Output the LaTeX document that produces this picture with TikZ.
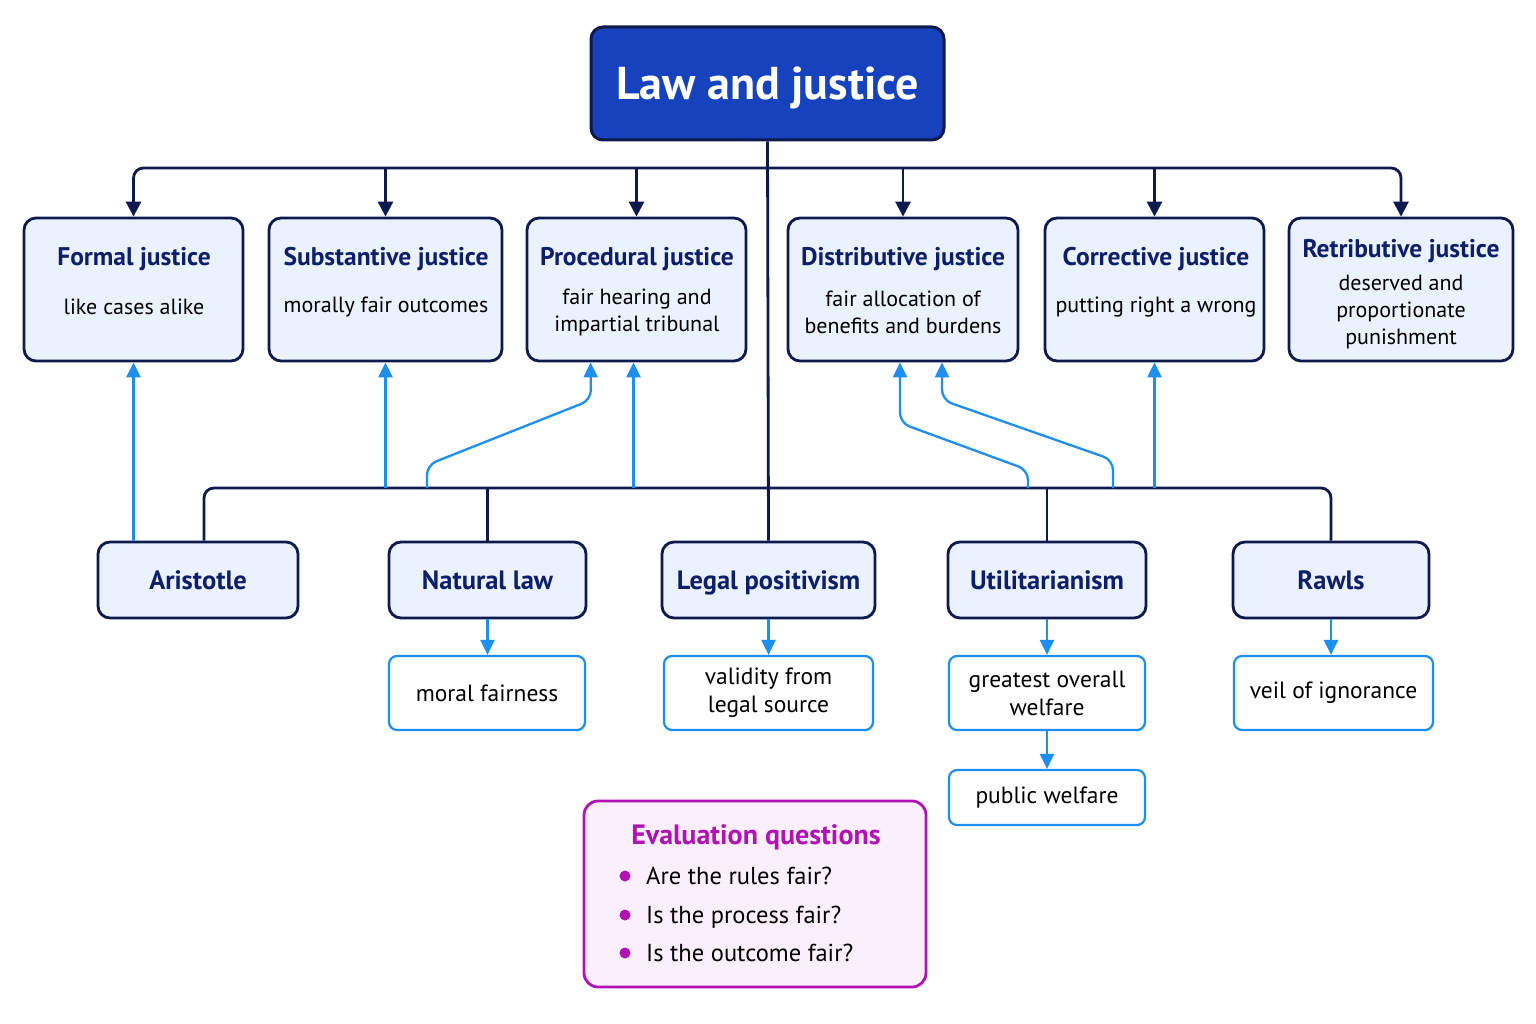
\documentclass[tikz,border=0pt]{standalone}
\usepackage{fontspec}
\setmainfont{PT Sans}
\usetikzlibrary{arrows.meta,fit}
\definecolor{navy}{HTML}{0E1A4E}
\definecolor{titleblue}{HTML}{1742BD}
\definecolor{jfill}{HTML}{EAF2FD}
\definecolor{jtext}{HTML}{0F1E6B}
\definecolor{lblue}{HTML}{1C8FF0}
\definecolor{purp}{HTML}{B012B5}
\definecolor{pfill}{HTML}{FCEFFC}
\begin{document}
\begin{tikzpicture}[x=1pt,y=-1pt,
  jbox/.style={draw=navy, line width=2.8pt, fill=jfill, rounded corners=12pt, inner sep=0pt},
  subbox/.style={draw=lblue, line width=2.2pt, fill=white, rounded corners=8pt, inner sep=0pt},
  jtitle/.style={font=\fontsize{25.5}{29}\selectfont\bfseries, text=jtext, inner sep=0pt, text height=21.5pt, text depth=3.8pt},
  ttitle/.style={font=\fontsize{26.5}{30}\selectfont\bfseries, text=jtext, inner sep=0pt, text height=22.5pt, text depth=4pt},
  jdesc/.style={font=\fontsize{22}{27}\selectfont, text=black, align=center},
  sdesc/.style={font=\fontsize{23.5}{28}\selectfont, text=black, align=center},
  navyline/.style={draw=navy, line width=2.8pt, rounded corners=10pt},
  navyarrow/.style={navyline, -{Triangle[length=15pt,width=15pt]}},
  bluearrow/.style={draw=lblue, line width=2.3pt, rounded corners=10pt, -{Triangle[length=15pt,width=14pt]}},
  bulletdot/.style={circle, fill=purp, inner sep=0pt, minimum size=11pt},
  qtext/.style={font=\fontsize{24.5}{28}\selectfont, text=black, anchor=west, inner sep=0pt, text height=20.8pt, text depth=3.7pt},
]
\useasboundingbox[fill=white] (0,0) rectangle (1536,1024);

% root
\node[fit={(591,27) (944,140)}, draw=navy, line width=3pt, fill=titleblue, rounded corners=12pt, inner sep=0pt] (root) {};
\node[font=\fontsize{46}{54}\selectfont\bfseries, text=white, inner sep=0pt, text height=39pt, text depth=7pt] (rootlabel) at (root.center) {Law and justice};

% justice boxes
\node[jbox, fit={(24,218) (243,361)}] (formal) {};
\node[jtitle] (formalt) at (134,257) {Formal justice};
\node[jdesc] (formald) at (134,307) {like cases alike};

\node[jbox, fit={(269,218) (502,361)}] (subst) {};
\node[jtitle] (substt) at (386,257) {Substantive justice};
\node[jdesc] (substd) at (386,307) {morally fair outcomes};

\node[jbox, fit={(527,218) (746,361)}] (proc) {};
\node[jtitle] (proct) at (637,257) {Procedural justice};
\node[jdesc] (procd) at (637,312) {fair hearing and\\impartial tribunal};

\node[jbox, fit={(788,218) (1018,361)}] (distr) {};
\node[jtitle] (distrt) at (903,257) {Distributive justice};
\node[jdesc] (distrd) at (903,312) {fair allocation of\\benefits and burdens};

\node[jbox, fit={(1045,218) (1264,361)}] (corr) {};
\node[jtitle] (corrt) at (1156,257) {Corrective justice};
\node[jdesc] (corrd) at (1156,307) {putting right a wrong};

\node[jbox, fit={(1289,218) (1513,361)}] (retri) {};
\node[jtitle] (retrit) at (1401,249) {Retributive justice};
\node[jdesc] (retrid) at (1401,312) {deserved and\\proportionate\\punishment};

% theory boxes
\node[jbox, fit={(98,542) (298,618)}] (aris) {};
\node[ttitle] (arist) at (aris.center) {Aristotle};
\node[jbox, fit={(389,542) (586,618)}] (natural) {};
\node[ttitle] (naturalt) at (natural.center) {Natural law};
\node[jbox, fit={(662,542) (875,618)}] (legal) {};
\node[ttitle] (legalt) at (legal.center) {Legal positivism};
\node[jbox, fit={(948,542) (1146,618)}] (util) {};
\node[ttitle] (utilt) at (util.center) {Utilitarianism};
\node[jbox, fit={(1233,542) (1429,618)}] (rawls) {};
\node[ttitle] (rawlst) at (rawls.center) {Rawls};

% sub boxes
\node[subbox, fit={(389,656) (585,730)}] (moral) {};
\node[sdesc] (moralt) at (moral.center) {moral fairness};
\node[subbox, fit={(664,656) (873,730)}] (valid) {};
\node[sdesc] (validt) at (valid.center) {validity from\\legal source};
\node[subbox, fit={(949,656) (1145,730)}] (great) {};
\node[sdesc] (greatt) at (great.center) {greatest overall\\welfare};
\node[subbox, fit={(1234,656) (1433,730)}] (veil) {};
\node[sdesc] (veilt) at (veil.center) {veil of ignorance};
\node[subbox, fit={(949,770) (1145,825)}] (public) {};
\node[sdesc] (publict) at (public.center) {public welfare};

% evaluation box
\node[fit={(584,801) (926,987)}, draw=purp, line width=2.8pt, fill=pfill, rounded corners=14pt, inner sep=0pt] (eval) {};
\node[font=\fontsize{28}{32}\selectfont\bfseries, text=purp, inner sep=0pt, text height=24pt, text depth=4.2pt] (evalt) at (756,835) {Evaluation questions};
\node[bulletdot] (b1) at (625,876) {};
\node[qtext] (q1) at (646,876) {Are the rules fair?};
\node[bulletdot] (b2) at (625,915) {};
\node[qtext] (q2) at (646,915) {Is the process fair?};
\node[bulletdot] (b3) at (625,953) {};
\node[qtext] (q3) at (646,953) {Is the outcome fair?};

% top bus
\coordinate (tb) at (root.south |- 0,168);
\coordinate (lb) at (root.south |- 0,488);
\draw[navyline] (root.south) -- (legal.north);
\draw[navyarrow] (tb) -| (formal.north);
\draw[navyarrow] (tb) -| (retri.north);
\draw[navyarrow] (subst.north |- tb) -- (subst.north);
\draw[navyarrow] (proc.north |- tb) -- (proc.north);
\draw[navyarrow] (distr.north |- tb) -- (distr.north);
\draw[navyarrow] (corr.north |- tb) -- (corr.north);

% lower bus
\draw[navyline] ([xshift=6pt]aris.north) |- (lb) -| (rawls.north);
\draw[navyline] (natural.north) -- (natural.north |- lb);
\draw[navyline] (util.north) -- (util.north |- lb);

% blue arrows up
\draw[bluearrow] (aris.north -| formal.south) -- (formal.south);
\draw[bluearrow] (subst.south |- lb) -- (subst.south);
\coordinate (pa) at (427,488);
\draw[bluearrow] (pa) -- (427,465) -- (591,400) -- ([xshift=-46pt]proc.south);
\draw[bluearrow] ([xshift=-3pt]proc.south |- lb) -- ([xshift=-3pt]proc.south);
\coordinate (da) at (1028,488);
\draw[bluearrow] (da) -- (1028,470) -- (900,423) -- ([xshift=-3pt]distr.south);
\coordinate (db) at (1113,488);
\draw[bluearrow] (db) -- (1113,460) -- (942,400) -- ([xshift=39pt]distr.south);
\draw[bluearrow] (corr.south |- lb) -- (corr.south);

% blue arrows down
\draw[bluearrow] (natural.south) -- (natural.south |- moral.north);
\draw[bluearrow] (legal.south) -- (legal.south |- valid.north);
\draw[bluearrow] (util.south) -- (util.south |- great.north);
\draw[bluearrow] (great.south) -- (public.north);
\draw[bluearrow] (rawls.south) -- (rawls.south |- veil.north);
\end{tikzpicture}
\end{document}
